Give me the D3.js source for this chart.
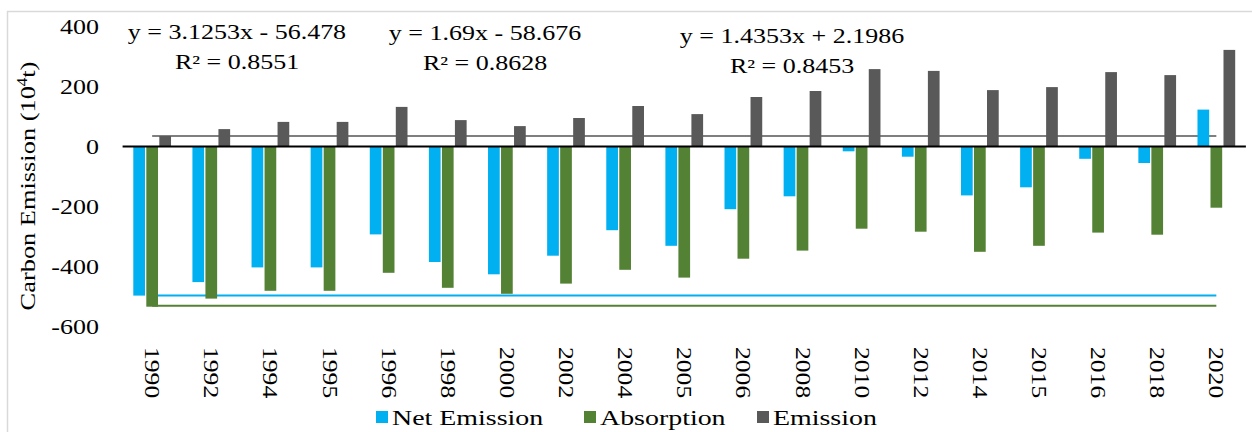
<!DOCTYPE html>
<html>
<head>
<meta charset="utf-8">
<script src="https://cdn.jsdelivr.net/npm/d3@7"></script>
<style>
  body { margin: 0; background: #fff; }
  svg text { font-family: "Liberation Serif", serif !important; fill: #000; }
</style>
</head>
<body>
<script>
// chart data
var years = ["1990", "1992", "1994", "1995", "1996", "1998", "2000", "2002", "2004", "2005",
             "2006", "2008", "2010", "2012", "2014", "2015", "2016", "2018", "2020"];
var netEmission = [-497, -452, -403, -403, -293, -385, -426, -364, -279, -331,
                   -209, -166, -16, -34, -163, -136, -41, -55, 123];
var absorption = [-534, -507, -481, -481, -421, -471, -491, -457, -411, -437,
                  -374, -347, -274, -284, -351, -331, -287, -294, -204];
var emission = [35, 58, 82, 82, 132, 88, 68, 95, 135, 108,
                165, 185, 258, 252, 188, 198, 248, 238, 322];
var seriesNames = ["Net Emission", "Absorption", "Emission"];
var seriesColors = ["#00B0F0", "#548235", "#595959"];
var trendColors = ["#00B0F0", "#548235", "#7f7f7f"];
// trendlines as drawn (flat)
var trendValues = [-497, -531, 35];
var equations = [
  ["y = 3.1253x - 56.478", "R\u00B2 = 0.8551"],
  ["y = 1.69x - 58.676", "R\u00B2 = 0.8628"],
  ["y = 1.4353x + 2.1986", "R\u00B2 = 0.8453"]
];
var yTicks = [-600, -400, -200, 0, 200, 400];

var width = 1252, height = 432;
var stretch = 1.3;

var svg = d3.select("body").append("svg")
    .attr("width", width)
    .attr("height", height);

svg.append("rect")
    .attr("x", 7.5).attr("y", 11.5)
    .attr("width", 1260).attr("height", 440)
    .attr("fill", "#fff")
    .attr("stroke", "#d9d9d9")
    .attr("stroke-width", 1.5);

var x = d3.scaleBand().domain(years).range([122.6, 1245.9]);
var x1 = d3.scaleBand().domain(seriesNames)
    .range([x.bandwidth() * 0.17, x.bandwidth() * 0.83])
    .paddingInner(0.1).paddingOuter(0.05);
var y = d3.scaleLinear().domain([-600, 400]).range([326.5, 26.5]);

function stretched(sel, tx, ty, rot, s) {
    sel.attr("transform", "translate(" + tx + "," + ty + ") rotate(" + (rot || 0) + ") scale(" + (s || stretch) + ",1)");
}

// y tick labels (no axis line)
var yAxis = d3.axisLeft(y).tickValues(yTicks).tickSize(0).tickPadding(0)
    .tickFormat(function(d) { return String(d); });
var yAxisGroup = svg.append("g").attr("transform", "translate(99,0)").call(yAxis);
yAxisGroup.attr("font-family", null).attr("font-size", null);
yAxisGroup.select(".domain").remove();
yAxisGroup.selectAll("text")
    .attr("font-size", "20px")
    .attr("fill", "#000")
    .attr("x", null)
    .attr("dy", null)
    .attr("dominant-baseline", "central")
    .attr("transform", "scale(" + stretch + ",1)");

// y axis title
var yTitle = svg.append("text")
    .attr("font-size", "22px")
    .attr("text-anchor", "middle");
stretched(yTitle, 35, 186, -90, 1.2);
yTitle.append("tspan").text("Carbon Emission (10");
yTitle.append("tspan").attr("font-size", "14px").attr("dy", "-8").text("4");
yTitle.append("tspan").attr("dy", "8").text("t)");

// trendlines
var data = [netEmission, absorption, emission];
svg.selectAll(".trend").data(trendValues).enter().append("line")
    .attr("class", "trend")
    .attr("x1", x(years[0]) + x.bandwidth() / 2)
    .attr("x2", x(years[years.length - 1]) + x.bandwidth() / 2)
    .attr("y1", function(d) { return y(d); })
    .attr("y2", function(d) { return y(d); })
    .attr("stroke", function(d, i) { return trendColors[i]; })
    .attr("stroke-width", 2);

// bars
var groups = svg.selectAll(".yr").data(years).enter().append("g")
    .attr("class", "yr")
    .attr("transform", function(d) { return "translate(" + x(d) + ",0)"; });

groups.selectAll("rect")
    .data(function(d, i) {
        return seriesNames.map(function(s, j) { return { name: s, value: data[j][i], color: seriesColors[j] }; });
    })
    .enter().append("rect")
    .attr("x", function(d) { return x1(d.name); })
    .attr("width", x1.bandwidth())
    .attr("y", function(d) { return y(Math.max(0, d.value)); })
    .attr("height", function(d) { return Math.abs(y(d.value) - y(0)); })
    .attr("fill", function(d) { return d.color; });

// zero line
svg.append("line")
    .attr("x1", x.range()[0]).attr("x2", x.range()[1])
    .attr("y1", y(0)).attr("y2", y(0))
    .attr("stroke", "#000")
    .attr("stroke-width", 2);

// year labels (rotated)
svg.selectAll(".yl").data(years).enter().append("text")
    .attr("class", "yl")
    .attr("font-size", "21px")
    .attr("dy", "0.33em")
    .text(function(d) { return d; })
    .each(function(d) {
        stretched(d3.select(this), x(d) + x.bandwidth() / 2, 347, 90, 1.22);
    });

// equations
var eqPos = [[237, 39, 69], [485, 40, 70], [792, 43, 73]];
equations.forEach(function(eq, i) {
    var t1 = svg.append("text").attr("font-size", "20px").attr("text-anchor", "middle").text(eq[0]);
    stretched(t1, eqPos[i][0], eqPos[i][1]);
    var t2 = svg.append("text").attr("font-size", "20px").attr("text-anchor", "middle").text(eq[1]);
    stretched(t2, eqPos[i][0], eqPos[i][2]);
});

// legend
var legendX = [376, 584, 757];
var legend = svg.selectAll(".lg").data(seriesNames).enter().append("g")
    .attr("class", "lg")
    .attr("transform", function(d, i) { return "translate(" + legendX[i] + ",0)"; });
legend.append("rect")
    .attr("x", 0).attr("y", 411)
    .attr("width", 12).attr("height", 12)
    .attr("fill", function(d, i) { return seriesColors[i]; });
legend.append("text")
    .attr("font-size", "21px")
    .text(function(d) { return d; })
    .each(function() { stretched(d3.select(this), 16, 425, 0, 1.33); });
</script>
</body>
</html>
